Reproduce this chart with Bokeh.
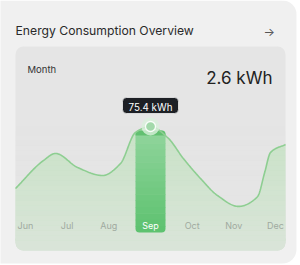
import numpy as np
from bokeh.plotting import figure
from bokeh.models import Range1d
from bokeh.core.properties import value
from bokeh.embed import file_html
from bokeh.resources import INLINE

# ---------------- data ----------------
title_text = "Energy Consumption Overview"
period_label = "Month"
total_label = "2.6 kWh"
months = ["Jun", "Jul", "Aug", "Sep", "Oct", "Nov", "Dec"]
selected_month = "Sep"
selected_kwh = 75.4
tooltip_text = "75.4 kWh"
# smooth consumption curve: position along the month axis (0 = Jun) and kWh
curve_pos = [-0.24, 0.43, 0.72, 1.25, 1.85, 2.28, 2.64, 3.00, 3.41, 3.79,
             4.20, 4.61, 5.11, 5.57, 5.74, 5.88, 6.24]
curve_kwh = [37.7, 54.7, 59.0, 50.5, 45.6, 52.9, 71.8, 75.4, 68.7, 55.9,
             43.8, 33.4, 26.8, 32.8, 47.4, 59.6, 64.5]
highlight_low = 11.0
highlight_high = 73.0

# ---------------- geometry helpers (pixel -> data) ----------------
PX_PER_MONTH = 41.667
PX_PER_KWH = 1.6446
def X(px):
    return (px - 25.0) / PX_PER_MONTH
def Y(py):
    return (250.0 - py) / PX_PER_KWH
def DX(px):
    return px / PX_PER_MONTH
def DY(px):
    return px / PX_PER_KWH

def monotone(xs, ys, n=500):
    xs = np.asarray(xs, float); ys = np.asarray(ys, float)
    h = np.diff(xs); d = np.diff(ys) / h
    m = np.zeros_like(xs)
    m[0] = d[0]; m[-1] = d[-1]
    for k in range(1, len(xs) - 1):
        if d[k - 1] * d[k] <= 0:
            m[k] = 0.0
        else:
            w1 = 2 * h[k] + h[k - 1]; w2 = h[k] + 2 * h[k - 1]
            m[k] = (w1 + w2) / (w1 / d[k - 1] + w2 / d[k])
    xx = np.linspace(xs[0], xs[-1], n)
    idx = np.clip(np.searchsorted(xs, xx) - 1, 0, len(xs) - 2)
    t = (xx - xs[idx]) / h[idx]
    h00 = 2 * t**3 - 3 * t**2 + 1
    h10 = t**3 - 2 * t**2 + t
    h01 = -2 * t**3 + 3 * t**2
    h11 = t**3 - t**2
    yy = h00 * ys[idx] + h10 * h[idx] * m[idx] + h01 * ys[idx + 1] + h11 * h[idx] * m[idx + 1]
    return xx, yy

def mix(c1, c2, t):
    a = [int(c1[i:i + 2], 16) for i in (1, 3, 5)]
    b = [int(c2[i:i + 2], 16) for i in (1, 3, 5)]
    return "#%02x%02x%02x" % tuple(round(a[i] + (b[i] - a[i]) * t) for i in range(3))

p = figure(width=300, height=265, output_backend="svg", toolbar_location=None,
           x_range=Range1d(X(0), X(300)), y_range=Range1d(Y(265), Y(0)),
           min_border=0, x_axis_type=None, y_axis_type=None)
p.background_fill_color = "white"
p.border_fill_color = "white"
p.outline_line_color = None
p.grid.visible = False

FONT = value("Inter")
CARD = "#f0f0f0"
PANEL = "#e5e5e5"
AREA = "#c8e3c6"

# outer card and inner panel
p.quad(left=X(-30), right=X(296), top=Y(0), bottom=Y(263), border_radius=14,
       fill_color=CARD, line_color=None)
p.quad(left=X(15), right=X(285), top=Y(46), bottom=Y(250), border_radius=8,
       fill_color=PANEL, line_color=None)

# area
cx, cy = monotone(curve_pos, curve_kwh)
p.varea(x=cx, y1=Y(240), y2=cy, fill_color=AREA)
p.quad(left=X(15), right=X(285), top=Y(238), bottom=Y(250),
       border_radius=(0, 0, 8, 8), fill_color=AREA, line_color=None)
# vertical fade of the area towards the bottom
n = 24
edges = np.linspace(120, 240, n + 1)
for k in range(n):
    a = 0.6 * (k + 0.5) / (n + 1)
    p.quad(left=X(15), right=X(285), top=Y(edges[k]), bottom=Y(edges[k + 1]),
           fill_color=PANEL, fill_alpha=a, line_color=None)
p.quad(left=X(15), right=X(285), top=Y(240), bottom=Y(250),
       border_radius=(0, 0, 8, 8), fill_color=PANEL, fill_alpha=0.6, line_color=None)

# highlight bar for the selected month
si = months.index(selected_month)
bw = DX(30)
nb = 16
be = np.linspace(highlight_high, highlight_low, nb + 1)
for k in range(nb):
    col = mix("#8fd49b", "#5ec270", k / (nb - 1))
    if k == 0:
        r = (4, 4, 0, 0)
    elif k == nb - 1:
        r = (0, 0, 4, 4)
    else:
        r = 0
    p.quad(left=si - bw / 2, right=si + bw / 2, top=be[k], bottom=be[k + 1] - (0.3 if k < nb - 1 else 0),
           border_radius=r, fill_color=col, line_color=None)
p.quad(left=si - bw / 2, right=si + bw / 2, top=highlight_high, bottom=highlight_high - DY(5),
       border_radius=(4, 4, 0, 0), fill_color="#62c071", line_color=None)

# curve line
p.line(cx, cy, line_color="#8dce91", line_width=1.6)

# point marker with soft halo
p.scatter([si], [selected_kwh], size=18, fill_color="#d9f0dc", fill_alpha=0.8, line_color=None)
p.scatter([si], [selected_kwh], size=10, fill_color="#a3d9ab", line_color="white",
          line_width=1.3, line_alpha=0.9)

# tooltip
tip_c = selected_kwh + DY(21)
p.quad(left=si - DX(28), right=si + DX(28), top=tip_c + DY(8), bottom=tip_c - DY(8),
       border_radius=4, fill_color="#1d2025", line_color="white", line_alpha=0.7, line_width=1)
p.text(x=[si], y=[tip_c - DY(2.5)], text=[tooltip_text], text_font=FONT, text_font_size="9.8px",
       text_color="white", text_align="center", text_baseline="alphabetic")

# month labels
cols = ["white" if m == selected_month else "#a0aaa0" for m in months]
p.text(x=list(range(len(months))), y=[Y(224.7)] * len(months), text=months,
       text_font=FONT, text_font_size="9px", text_color=cols,
       text_align="center", text_baseline="alphabetic")

# header texts
p.text(x=[X(15)], y=[Y(30)], text=[title_text], text_font=FONT, text_font_size="12.2px",
       text_color="#2a2a2a", text_align="left", text_baseline="alphabetic")
p.text(x=[X(268.7)], y=[Y(31)], text=["→"], text_font=FONT, text_font_size="12px",
       text_color="#555555", text_align="center", text_baseline="alphabetic")
p.text(x=[X(27)], y=[Y(69.3)], text=[period_label], text_font=FONT, text_font_size="9.5px",
       text_color="#333333", text_align="left", text_baseline="alphabetic")
p.text(x=[X(272)], y=[Y(77.3)], text=[total_label], text_font=FONT, text_font_size="17px",
       text_color="#222222", text_align="right", text_baseline="alphabetic")

open("out.html", "w").write(file_html(p, INLINE))
